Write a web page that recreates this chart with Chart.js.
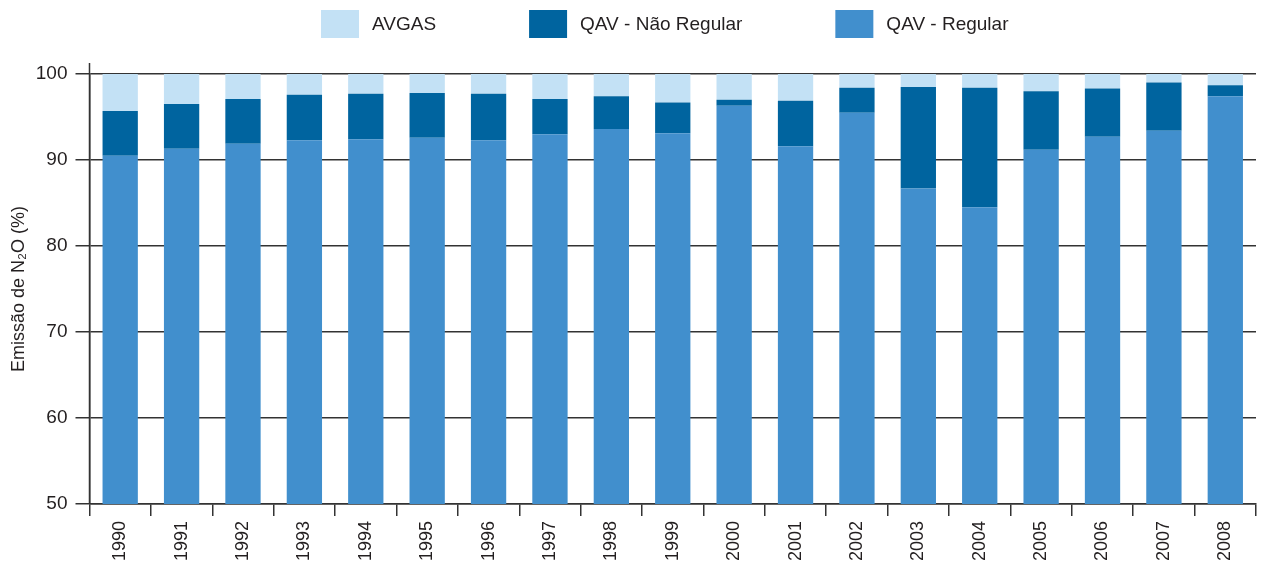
<!DOCTYPE html>
<html>
<head>
<meta charset="utf-8">
<script src="https://cdn.jsdelivr.net/npm/chart.js@4.4.1/dist/chart.umd.min.js"></script>
<style>
  html, body { margin: 0; padding: 0; background: #fff; }
  #wrap { width: 1262px; height: 565px; }
</style>
</head>
<body>
<div id="wrap"><canvas id="chart"></canvas></div>
<script>
const years = ['1990', '1991', '1992', '1993', '1994', '1995', '1996', '1997', '1998', '1999',
  '2000', '2001', '2002', '2003', '2004', '2005', '2006', '2007', '2008'];

// % of N2O emissions by fuel type
const qavRegular = [90.5, 91.3, 91.9, 92.3, 92.4, 92.6, 92.3, 93.0, 93.6, 93.1,
  96.3, 91.6, 95.5, 86.7, 84.5, 91.2, 92.7, 93.4, 97.4];
const qavNaoRegular = [5.2, 5.2, 5.2, 5.3, 5.3, 5.2, 5.4, 4.1, 3.8, 3.6,
  0.7, 5.3, 2.9, 11.8, 13.9, 6.8, 5.6, 5.6, 1.3];
const avgas = [4.3, 3.5, 2.9, 2.4, 2.3, 2.2, 2.3, 2.9, 2.6, 3.3,
  3.0, 3.1, 1.6, 1.5, 1.6, 2.0, 1.7, 1.0, 1.3];

const yTicks = [50, 60, 70, 80, 90, 100];

const FONT = "'Liberation Sans', Arial, sans-serif";
const INK = '#231f20';
const LINE = '#333333';

// legend drawn by hand so box/text spacing matches the original
const legendPlugin = {
  id: 'topLegend',
  afterDraw(chart) {
    const ctx = chart.ctx;
    const order = [2, 1, 0]; // AVGAS, Não Regular, Regular
    const boxW = 38, boxH = 28, gap = 13, itemGap = 93;
    ctx.save();
    ctx.font = '19px ' + FONT;
    const widths = order.map(i => boxW + gap + ctx.measureText(chart.data.datasets[i].label).width);
    const total = widths.reduce((a, b) => a + b, 0) + itemGap * (order.length - 1);
    const mid = (chart.chartArea.left + chart.chartArea.right) / 2 - 8;
    let x = mid - total / 2;
    const y = 10;
    order.forEach((i, k) => {
      const ds = chart.data.datasets[i];
      ctx.fillStyle = ds.backgroundColor;
      ctx.fillRect(x, y, boxW, boxH);
      ctx.fillStyle = INK;
      ctx.textBaseline = 'middle';
      ctx.textAlign = 'left';
      ctx.fillText(ds.label, x + boxW + gap, y + boxH / 2 + 1);
      x += widths[k] + itemGap;
    });
    ctx.restore();
  }
};

// y axis line runs a little past the plot on top
const axisExtend = {
  id: 'axisExtend',
  afterDraw(chart) {
    const { ctx, chartArea } = chart;
    ctx.save();
    ctx.strokeStyle = LINE;
    ctx.lineWidth = 1.5;
    ctx.beginPath();
    ctx.moveTo(chartArea.left, chartArea.top - 11);
    ctx.lineTo(chartArea.left, chartArea.bottom);
    ctx.stroke();
    ctx.restore();
  }
};

new Chart(document.getElementById('chart'), {
  type: 'bar',
  data: {
    labels: years,
    datasets: [
      { label: 'QAV - Regular', data: qavRegular, backgroundColor: '#418fcd' },
      { label: 'QAV - Não Regular', data: qavNaoRegular, backgroundColor: '#00649f' },
      { label: 'AVGAS', data: avgas, backgroundColor: '#c3e1f5' }
    ]
  },
  options: {
    responsive: true,
    maintainAspectRatio: false,
    animation: false,
    barPercentage: 0.575,
    categoryPercentage: 1,
    layout: { padding: { top: 74, right: 6, left: 0, bottom: 0 } },
    plugins: {
      legend: { display: false },
      tooltip: { enabled: false }
    },
    scales: {
      x: {
        stacked: true,
        afterFit: (s) => { s.height = 61; },
        grid: { display: true, offset: true, drawOnChartArea: false, drawTicks: true, tickLength: 12, color: LINE, lineWidth: 1.5 },
        border: { color: LINE, width: 1.5 },
        ticks: {
          color: INK, font: { family: FONT, size: 18 },
          minRotation: 90, maxRotation: 90, padding: 5, autoSkip: false
        }
      },
      y: {
        stacked: true,
        min: 50,
        max: 100,
        afterFit: (s) => { s.width = 89.5; },
        afterBuildTicks: (s) => { s.ticks = yTicks.map(v => ({ value: v })); },
        grid: { color: LINE, lineWidth: 1.5, tickLength: 14 },
        border: { color: LINE, width: 1.5 },
        ticks: { color: INK, font: { family: FONT, size: 19 }, padding: 8 },
        title: {
          display: true,
          text: 'Emissão de N₂O (%)',
          color: INK,
          font: { family: FONT, size: 18 },
          padding: { top: 8, bottom: 0 }
        }
      }
    }
  },
  plugins: [legendPlugin, axisExtend]
});
</script>
</body>
</html>
